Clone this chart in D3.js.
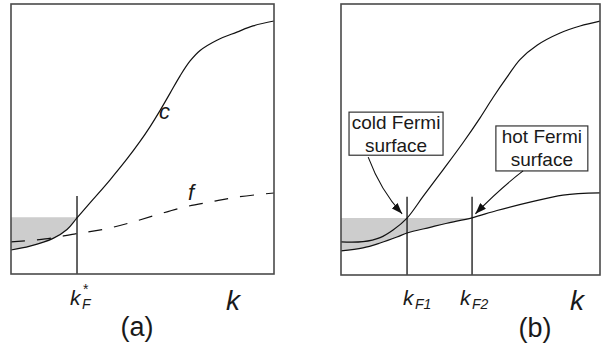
<!DOCTYPE html>
<html>
<head>
<meta charset="utf-8">
<script src="https://cdn.jsdelivr.net/npm/d3@7"></script>
<style>
  html, body { margin: 0; padding: 0; background: #fff; }
  svg { display: block; }
  text { font-family: "Liberation Sans", Arial, sans-serif; fill: #1a1a1a; }
</style>
</head>
<body>
<div id="chart"></div>
<script>
'use strict';

// panel (a): band c and band f, k (0-100) against energy (0-100)
const cK = [0, 7.2, 16, 21.3, 25.1, 31.2, 37.6, 44.1, 49, 52.9, 56.7, 60.5, 64.3, 68.1, 71.9, 78.3, 85.9, 92, 100];
const cE = [8.9, 10.3, 13.2, 16.5, 20.8, 27.6, 34.8, 42.6, 49.0, 54.6, 60.6, 67.0, 73.4, 78.9, 82.8, 86.6, 89.6, 91.9, 93.7];
const fK = [0, 13, 24, 35, 45, 55, 66, 76, 86, 100];
const fE = [11.9, 13.0, 14.8, 16.5, 18.9, 21.8, 24.8, 26.7, 28.5, 30];
const kFstar = 25.1;

// panel (b): upper (cold) and lower (hot) bands
const upK = [0, 8.5, 15.1, 20.1, 25.5, 31.7, 39.4, 47.1, 53.7, 58.7, 64.1, 69.1, 75.7, 84.6, 92.3, 100];
const upE = [12.2, 12.3, 13.8, 16.6, 21.0, 29.0, 38.8, 48.8, 58.0, 65.5, 73.0, 79.5, 84.8, 89.3, 91.9, 93.7];
const loK = [0, 8.5, 15.1, 21.6, 25.5, 34.4, 40.9, 50.6, 60.2, 73, 85.7, 100];
const loE = [8.9, 10.0, 11.8, 14.0, 15.5, 17.6, 19.1, 21.1, 23.8, 26.9, 29.5, 30.3];
const kF1 = 25.5, kF2 = 50.6;

const eF = 21.0;        // Fermi level (top of shaded region)
const markTop = 28.9;   // top of the k_F marker lines

const W = 606, H = 350;
const svg = d3.select('#chart').append('svg')
  .attr('width', W).attr('height', H);

const defs = svg.append('defs');
defs.append('marker')
  .attr('id', 'arrow')
  .attr('viewBox', '0 0 10 10')
  .attr('refX', 10).attr('refY', 5)
  .attr('markerWidth', 11).attr('markerHeight', 8)
  .attr('markerUnits', 'userSpaceOnUse')
  .attr('orient', 'auto')
  .attr('preserveAspectRatio', 'none')
  .append('path')
  .attr('d', 'M0,0 L10,5 L0,10 Z')
  .attr('fill', '#111');

const zip = (ks, es) => ks.map((k, i) => [k, es[i]]);
const smooth = d3.curveCatmullRom.alpha(0.5);

function panel(id, x, y, shadeCurve, kShade) {
  const g = svg.append('g').attr('id', id);
  const line = d3.line().x(d => x(d[0])).y(d => y(d[1])).curve(smooth);

  // shaded occupied states, clipped at k_F
  defs.append('clipPath').attr('id', id + '_clip')
    .append('rect')
    .attr('x', x(0)).attr('y', y(100))
    .attr('width', x(kShade) - x(0)).attr('height', y(0) - y(100));
  g.append('path')
    .datum(shadeCurve)
    .attr('clip-path', `url(#${id}_clip)`)
    .attr('fill', '#cdcdcd')
    .attr('d', d3.area().x(d => x(d[0])).y0(y(eF)).y1(d => y(d[1])).curve(smooth));

  return {g, line};
}

function frame(g, x, y) {
  g.append('rect')
    .attr('x', x(0)).attr('y', y(100))
    .attr('width', x(100) - x(0)).attr('height', y(0) - y(100))
    .attr('fill', 'none').attr('stroke', '#4a4a4a').attr('stroke-width', 1.6);
}

function marker(g, x, y, k) {
  g.append('line')
    .attr('x1', x(k)).attr('x2', x(k))
    .attr('y1', y(markTop)).attr('y2', y(0))
    .attr('stroke', '#111').attr('stroke-width', 1.3);
}

// k with subscript (and optional superscript) as separate text pieces
function kLabel(g, xpos, sub, sup) {
  g.append('text').attr('x', xpos).attr('y', 305)
    .style('font-size', '21px').style('font-style', 'italic').text('k');
  if (sup) {
    g.append('text').attr('x', xpos + 13).attr('y', 294)
      .style('font-size', '14px').text(sup);
  }
  g.append('text').attr('x', xpos + 12).attr('y', 309)
    .style('font-size', '14px').style('font-style', 'italic').text(sub);
}

// ---------- panel (a)
const xa = d3.scaleLinear().domain([0, 100]).range([11, 274]);
const ya = d3.scaleLinear().domain([0, 100]).range([274, 4]);
const cData = zip(cK, cE);
const fData = zip(fK, fE);
const A = panel('pa', xa, ya, cData, kFstar);

A.g.append('path').datum(fData)
  .attr('fill', 'none').attr('stroke', '#111').attr('stroke-width', 1.2)
  .attr('stroke-dasharray', '14,12')
  .attr('d', A.line);
A.g.append('path').datum(cData)
  .attr('fill', 'none').attr('stroke', '#111').attr('stroke-width', 1.2)
  .attr('d', A.line);
marker(A.g, xa, ya, kFstar);
frame(A.g, xa, ya);

A.g.append('text').attr('x', 159).attr('y', 119)
  .style('font-size', '22px').style('font-style', 'italic').text('c');
A.g.append('text').attr('x', 188).attr('y', 200)
  .style('font-size', '22px').style('font-style', 'italic').text('f');
kLabel(A.g, xa(kFstar) - 7, 'F', '*');
A.g.append('text').attr('x', 226).attr('y', 310)
  .style('font-size', '28px').style('font-style', 'italic').text('k');
A.g.append('text').attr('x', 137).attr('y', 336).attr('text-anchor', 'middle')
  .style('font-size', '27px').text('(a)');

// ---------- panel (b)
const xb = d3.scaleLinear().domain([0, 100]).range([341, 600]);
const yb = d3.scaleLinear().domain([0, 100]).range([275, 4]);
const upData = zip(upK, upE);
const loData = zip(loK, loE);
const B = panel('pb', xb, yb, loData, kF2);

[upData, loData].forEach(d => {
  B.g.append('path').datum(d)
    .attr('fill', 'none').attr('stroke', '#111').attr('stroke-width', 1.2)
    .attr('d', B.line);
});
marker(B.g, xb, yb, kF1);
marker(B.g, xb, yb, kF2);
frame(B.g, xb, yb);

kLabel(B.g, xb(kF1) - 4, 'F1');
kLabel(B.g, xb(kF2) - 12, 'F2');
B.g.append('text').attr('x', 570).attr('y', 310)
  .style('font-size', '28px').style('font-style', 'italic').text('k');
B.g.append('text').attr('x', 535).attr('y', 337).attr('text-anchor', 'middle')
  .style('font-size', '27px').text('(b)');

// annotation boxes with curved arrows (k, E in panel units)
const notes = [
  {lines: ['cold Fermi', 'surface'], box: [3.1, 60.1, 36.3, 15.9], from: [10.5, 43.5], ctrl: [15.4, 31], to: [23.6, 22.6]},
  {lines: ['hot Fermi', 'surface'], box: [59.8, 55.0, 35.5, 16.6], from: [70.3, 38.4], ctrl: [61.5, 32], to: [51.9, 22.6]}
];
notes.forEach(n => {
  const [k0, e0, kw, eh] = n.box;
  const bx = xb(k0), by = yb(e0), bw = xb(k0 + kw) - bx, bh = yb(e0 - eh) - by;
  B.g.append('rect')
    .attr('x', bx).attr('y', by).attr('width', bw).attr('height', bh)
    .attr('fill', '#fff').attr('stroke', '#333').attr('stroke-width', 1.2);
  n.lines.forEach((s, i) => {
    B.g.append('text')
      .attr('x', bx + bw / 2).attr('y', by + 17 + i * 23)
      .attr('text-anchor', 'middle')
      .style('font-size', '19px')
      .text(s);
  });
  const p = d3.path();
  p.moveTo(xb(n.from[0]), yb(n.from[1]));
  p.quadraticCurveTo(xb(n.ctrl[0]), yb(n.ctrl[1]), xb(n.to[0]), yb(n.to[1]));
  B.g.append('path')
    .attr('d', p.toString())
    .attr('fill', 'none').attr('stroke', '#111').attr('stroke-width', 1.1)
    .attr('marker-end', 'url(#arrow)');
});
</script>
</body>
</html>
